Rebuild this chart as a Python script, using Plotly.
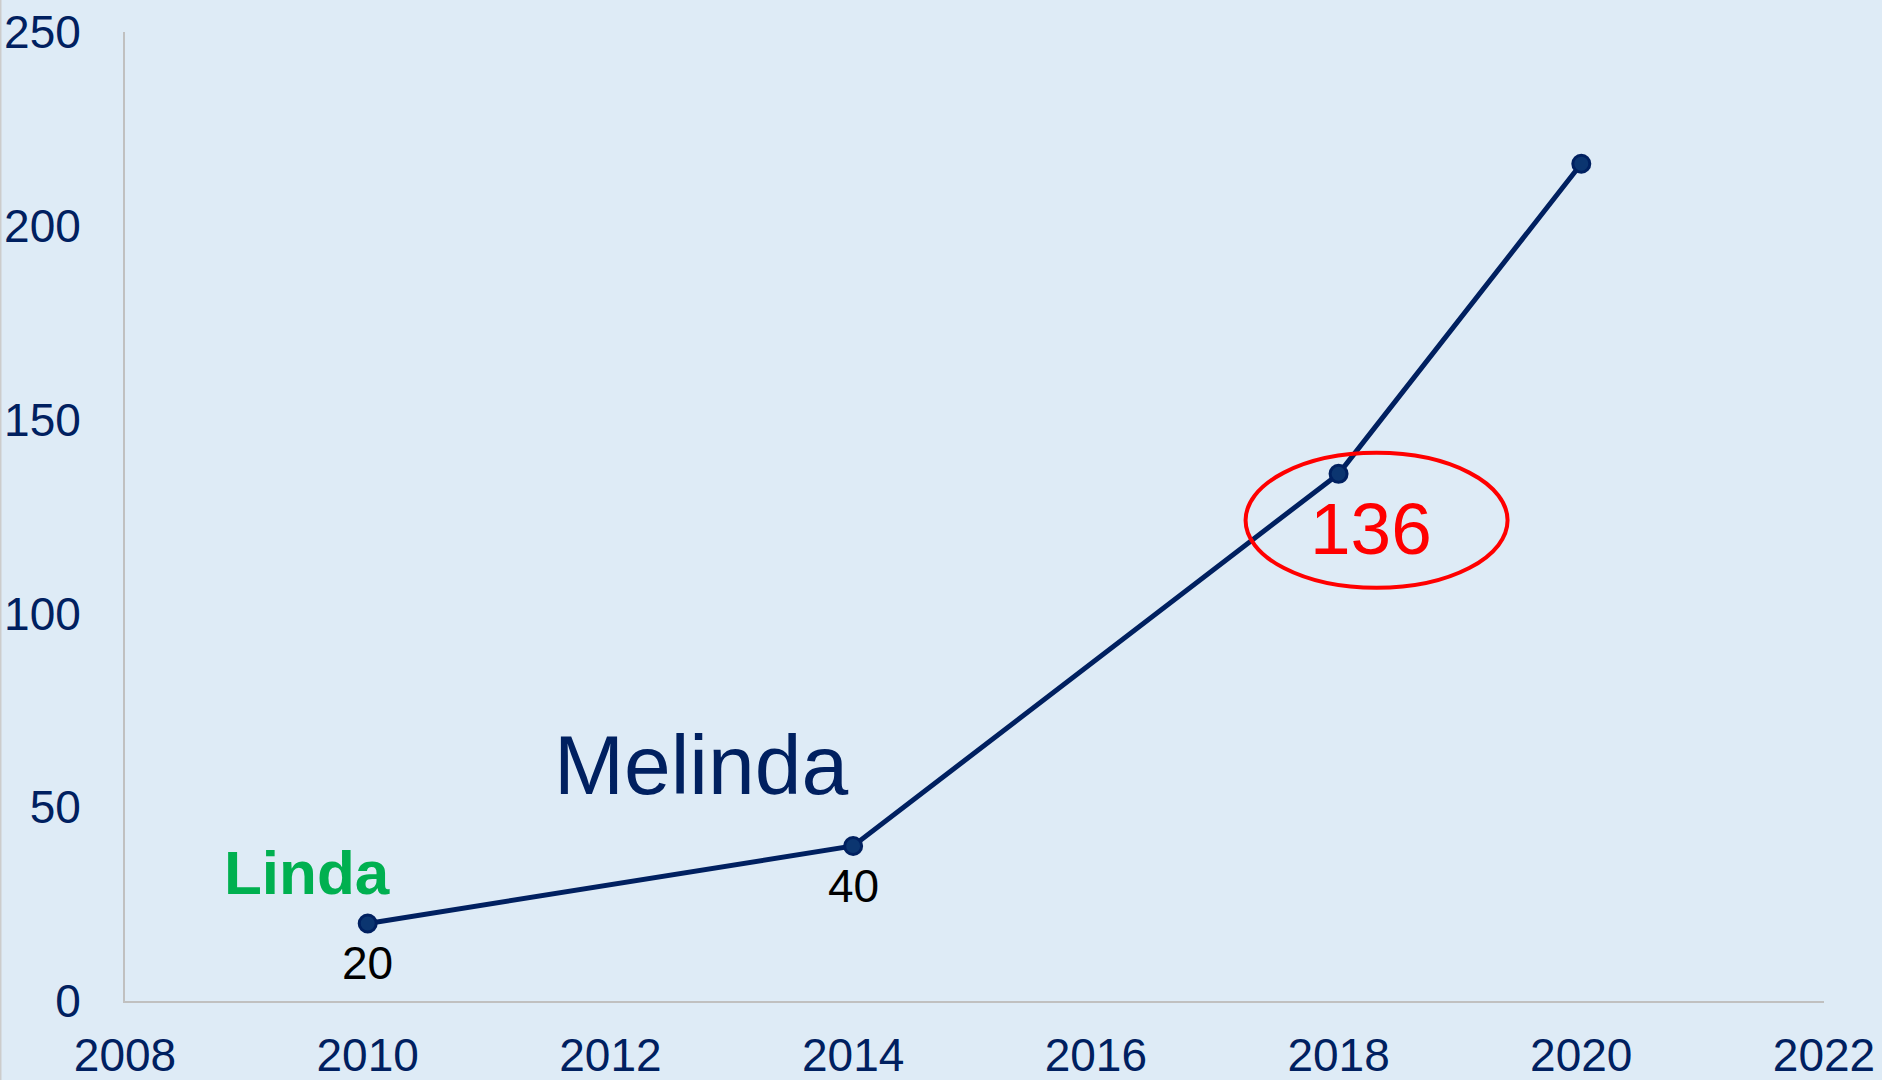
import plotly.graph_objects as go

years = [2010, 2014, 2018, 2020]
values = [20, 40, 136, 216]
point_labels = ["20", "40", "", ""]
x_ticks = [2008, 2010, 2012, 2014, 2016, 2018, 2020, 2022]
y_ticks = [0, 50, 100, 150, 200, 250]

NAVY = "#002060"
BG = "#DEEBF6"
FONT = "Arial, Liberation Sans, sans-serif"

fig = go.Figure()
fig.add_trace(go.Scatter(
    x=years, y=values, mode="lines+markers",
    line=dict(color=NAVY, width=5),
    marker=dict(size=17, color="#0B3570", line=dict(color=NAVY, width=3)),
    showlegend=False, hoverinfo="skip",
))

label_annotations = [
    dict(x=x, y=y, xref="x", yref="y", text=t, showarrow=False, yshift=-40,
         font=dict(family=FONT, size=46, color="#000000"))
    for x, y, t in zip(years, values, point_labels) if t
]

fig.update_layout(
    width=1882, height=1080,
    paper_bgcolor=BG, plot_bgcolor=BG,
    margin=dict(l=125, r=58, t=32, b=79),
    font=dict(family=FONT, color=NAVY),
    xaxis=dict(range=[2008, 2022], tickvals=x_ticks, showgrid=False, zeroline=False,
               showline=True, linecolor="#C0C0C0", linewidth=2, automargin=False,
               tickfont=dict(size=46, color=NAVY), ticks="", ticklabelstandoff=13),
    yaxis=dict(range=[0, 250], tickvals=y_ticks, showgrid=False, zeroline=False,
               showline=True, linecolor="#C0C0C0", linewidth=2, automargin=False,
               tickfont=dict(size=46, color=NAVY), ticks="", ticklabelstandoff=33),
    annotations=label_annotations + [
        dict(x=2010, y=20, xref="x", yref="y", text="<b>Linda</b>", showarrow=False,
             xshift=-61, yshift=51, font=dict(family=FONT, size=62, color="#00B050")),
        dict(x=2012.75, y=61, xref="x", yref="y", text="Melinda", showarrow=False,
             font=dict(family=FONT, size=84, color=NAVY)),
        dict(x=2018, y=136, xref="x", yref="y", text="136", showarrow=False,
             xshift=32, yshift=-55, font=dict(family=FONT, size=73, color="#FF0000")),
    ],
    shapes=[
        dict(type="circle", xref="x", yref="y", xsizemode="pixel", ysizemode="pixel",
             xanchor=2018, yanchor=136, x0=-93, x1=169, y0=-114, y1=21,
             line=dict(color="#FF0000", width=4)),
        dict(type="line", xref="paper", yref="paper", x0=-0.0733, x1=-0.0733, y0=-0.1, y1=1.04,
             line=dict(color="#CCCCCC", width=2)),
    ],
)

fig.write_html("out.html", config={"displayModeBar": False},
               post_script="document.body.style.margin='0';document.body.style.background='" + BG + "';")
